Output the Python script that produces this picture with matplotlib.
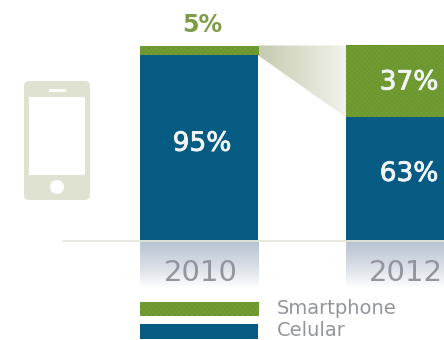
import numpy as np
import matplotlib
matplotlib.use("Agg")
import matplotlib.pyplot as plt
import matplotlib.patheffects as pe
from matplotlib.colors import LinearSegmentedColormap
from matplotlib.patches import Circle, FancyBboxPatch, Polygon, Rectangle

# ----------------------------
# Data
# ----------------------------
years = ["2010", "2012"]
smartphone = [5, 37]
celular = [95, 63]
legend_labels = ["Smartphone", "Celular"]

BLUE = "#065b82"
GREEN = "#679429"
GREEN_DOT = "#76a03a"
GREEN_TEXT = "#7e9c48"
GREY_TEXT = "#92959d"
PHONE = "#e0e2d1"
W, H = 444, 340

fig = plt.figure(figsize=(W / 100, H / 100), dpi=100)
fig.patch.set_facecolor("white")
plt.rcParams["font.family"] = "DejaVu Sans"

# pixel-space layer for icon, legend and the fade under the bars
deco = fig.add_axes([0, 0, 1, 1])
deco.set_xlim(0, W)
deco.set_ylim(H, 0)
deco.axis("off")

# data layer: x in px, y in percent (0 at the baseline, 100 at the bar top)
base_y, top_y = 240, 45.5
per_pct = (base_y - top_y) / 100
ax = fig.add_axes([0, 0, 1, 1])
ax.patch.set_alpha(0)
ax.axis("off")
xlim = (0, W)
ylim = (-(H - base_y) / per_pct, base_y / per_pct)

xpos = [199, 405]
bar_w = 118


def texture(target, extent, clip, color, dot):
    """Fine dot screen over a solid fill, clipped to a patch."""
    x0, x1, y0, y1 = extent
    ny = int(abs(y1 - y0) * per_pct / 2.5) + 1
    nx = int((x1 - x0) / 2.5) + 1
    cmap = LinearSegmentedColormap.from_list("screen", [color, dot])
    grid = np.indices((ny, nx)).sum(axis=0) % 2
    im = target.imshow(grid, extent=extent, cmap=cmap, aspect="auto",
                       interpolation="bilinear", zorder=3)
    im.set_clip_path(clip)


# ----------------------------
# Stacked bars
# ----------------------------
cel_bars = ax.bar(xpos, celular, width=bar_w, color=BLUE, zorder=2)
sm_bars = ax.bar(xpos, smartphone, bottom=celular, width=bar_w, color=GREEN, zorder=2)
for b in sm_bars:
    x = b.get_x()
    texture(ax, (x, x + bar_w, b.get_y(), b.get_y() + b.get_height()), b, GREEN, GREEN_DOT)

# wedge linking the smartphone share between the two years
wx0, wx1 = xpos[0] + bar_w / 2, xpos[1] - bar_w / 2
wedge = Polygon([(wx0, 100), (wx0, celular[0]), (wx1, celular[1]), (wx1, 100)],
                closed=True, fc="none", ec="none")
ax.add_patch(wedge)
fade = LinearSegmentedColormap.from_list("fade", ["#c6cab0", "#f1f2ea"])
im = ax.imshow(np.linspace(0, 1, 64).reshape(1, -1), extent=(wx0, wx1, celular[1], 100),
               cmap=fade, aspect="auto", zorder=1)
im.set_clip_path(wedge)

# value labels
ax.text(xpos[0] + 3, 100 + 20 / per_pct, f"{smartphone[0]}%", color=GREEN_TEXT, fontsize=17,
        fontweight="bold", ha="center", va="center", zorder=5)

thick = [pe.withStroke(linewidth=0.6, foreground="#f2f5f7")]
for xc, y, val in [(xpos[0] + 3, celular[0] / 2 + 2, celular[0]),
                   (xpos[1] + 4, celular[1] + smartphone[1] / 2 - 0.5, smartphone[1]),
                   (xpos[1] + 4, celular[1] / 2 + 2.5, celular[1])]:
    ax.text(xc, y, f"{val}%", color="#f2f5f7", fontsize=19, ha="center", va="center",
            zorder=5, path_effects=thick)

ax.set_xlim(xlim)
ax.set_ylim(ylim)

# ----------------------------
# Fade under the bars, baseline, year labels
# ----------------------------
band = LinearSegmentedColormap.from_list("band", ["#b5c1d0", "#d6dce5", "#ffffff"])
for xc, year in zip(xpos, years):
    deco.imshow(np.linspace(0, 1, 64).reshape(-1, 1),
                extent=(xc - bar_w / 2, xc + bar_w / 2, 289, 240),
                cmap=band, aspect="auto", zorder=1)
    deco.text(xc + (2 if year == "2010" else 1), 273, year, color=GREY_TEXT, fontsize=21,
              ha="center", va="center", zorder=4)
deco.plot([63, W], [240.5, 240.5], color="#e3e5d6", lw=1.2, zorder=2)

# ----------------------------
# Phone icon
# ----------------------------
deco.add_patch(FancyBboxPatch((27, 84), 60, 113, boxstyle="round,pad=3,rounding_size=5",
                              fc=PHONE, ec="none"))
deco.add_patch(Rectangle((29, 97), 56, 78, fc="white", ec="none"))
deco.add_patch(Rectangle((49, 89), 17, 3, fc="white", ec="none"))
deco.add_patch(Circle((57, 187), 7, fc="white", ec="none"))

# ----------------------------
# Legend
# ----------------------------
key_x = xpos[0] - bar_w / 2
for label, y0, col in zip(legend_labels, [301.5, 324], [GREEN, BLUE]):
    r = Rectangle((key_x, y0), bar_w, 14.5, fc=col, ec="none")
    deco.add_patch(r)
    if col == GREEN:
        x0, x1 = key_x, key_x + bar_w
        cmap = LinearSegmentedColormap.from_list("screen", [GREEN, GREEN_DOT])
        grid = np.indices((6, 47)).sum(axis=0) % 2
        im = deco.imshow(grid, extent=(x0, x1, y0 + 14.5, y0), cmap=cmap, aspect="auto",
                         interpolation="bilinear", zorder=3)
        im.set_clip_path(r)
    deco.text(277, y0 + 7, label, color=GREY_TEXT, fontsize=14, ha="left", va="center")

deco.set_xlim(0, W)
deco.set_ylim(H, 0)

fig.savefig("out.png", dpi=100)
